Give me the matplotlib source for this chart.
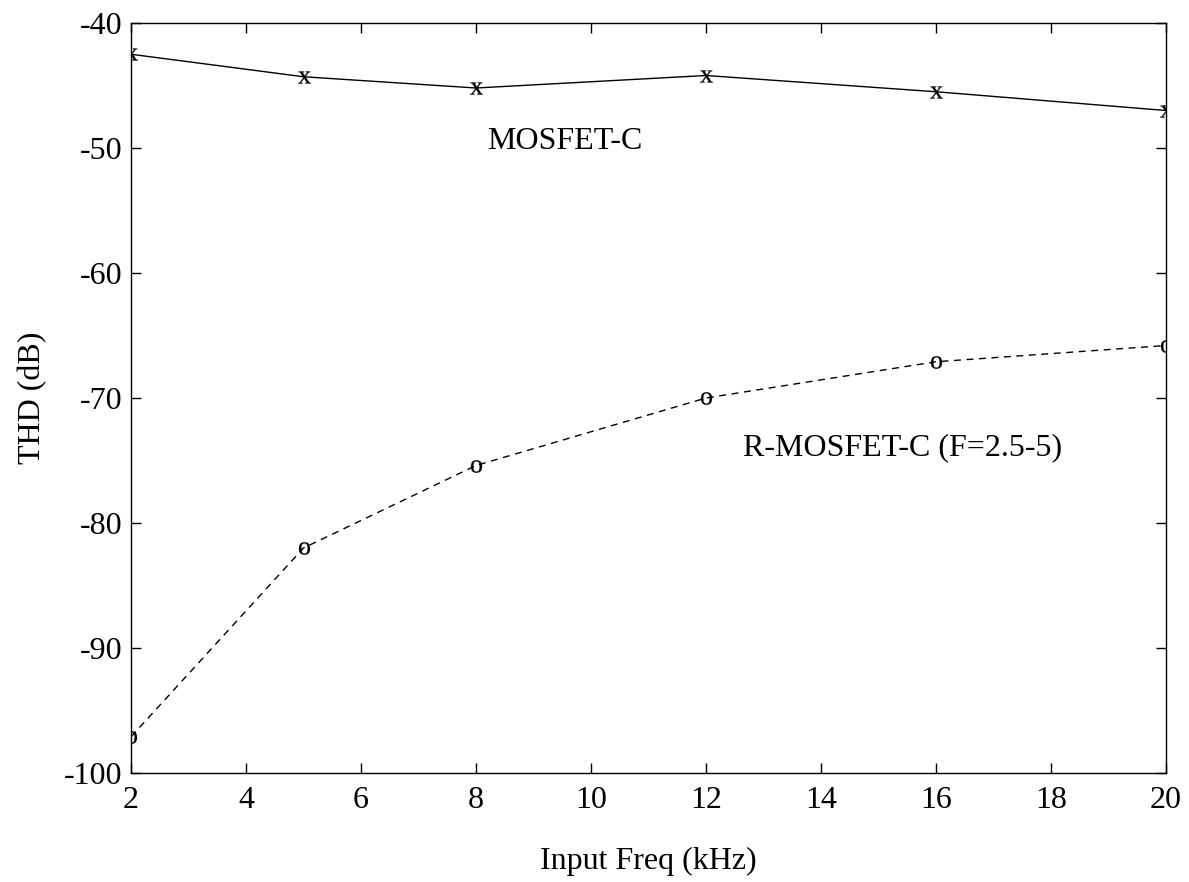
import matplotlib
matplotlib.use('Agg')
import matplotlib.pyplot as plt

plt.rcParams['font.family'] = ['Liberation Serif', 'DejaVu Serif']
plt.rcParams['font.size'] = 23
plt.rcParams['axes.unicode_minus'] = False

# data
freq = [2, 5, 8, 12, 16, 20]
thd_mosfet_c = [-42.5, -44.3, -45.2, -44.2, -45.5, -47.0]
thd_r_mosfet_c = [-97.1, -82.0, -75.4, -70.0, -67.1, -65.8]

fig = plt.figure(figsize=(11.89, 8.82), dpi=100)
ax = fig.add_axes([131/1189, 1 - 773/882, (1166-131)/1189, (773-23)/882])

ax.plot(freq, thd_mosfet_c, color='black', lw=1.0,
        marker=r'$\mathregular{x}$', markersize=9, markeredgewidth=0.2)
ax.plot(freq, thd_r_mosfet_c, color='black', lw=1.0, ls=(0, (5, 4)),
        marker=r'$\mathregular{o}$', markersize=9, markeredgewidth=0.2)

ax.text(8.19, -49.5, 'MOSFET-C', va='center', ha='left')
ax.text(12.64, -74.0, 'R-MOSFET-C (F=2.5-5)', va='center', ha='left')

ax.set_xlim(2, 20)
ax.set_ylim(-100, -40)
ax.set_xticks(range(2, 21, 2))
ax.set_yticks(range(-100, -39, 10))
ax.tick_params(direction='in', top=True, right=True, length=7, width=1)
ax.tick_params(axis='x', pad=9)
ax.tick_params(axis='y', pad=6)
for s in ax.spines.values():
    s.set_linewidth(1.0)

ax.set_xlabel('Input Freq (kHz)', labelpad=23)
ax.set_ylabel('THD (dB)', labelpad=12)

fig.savefig('out.png', dpi=100)
